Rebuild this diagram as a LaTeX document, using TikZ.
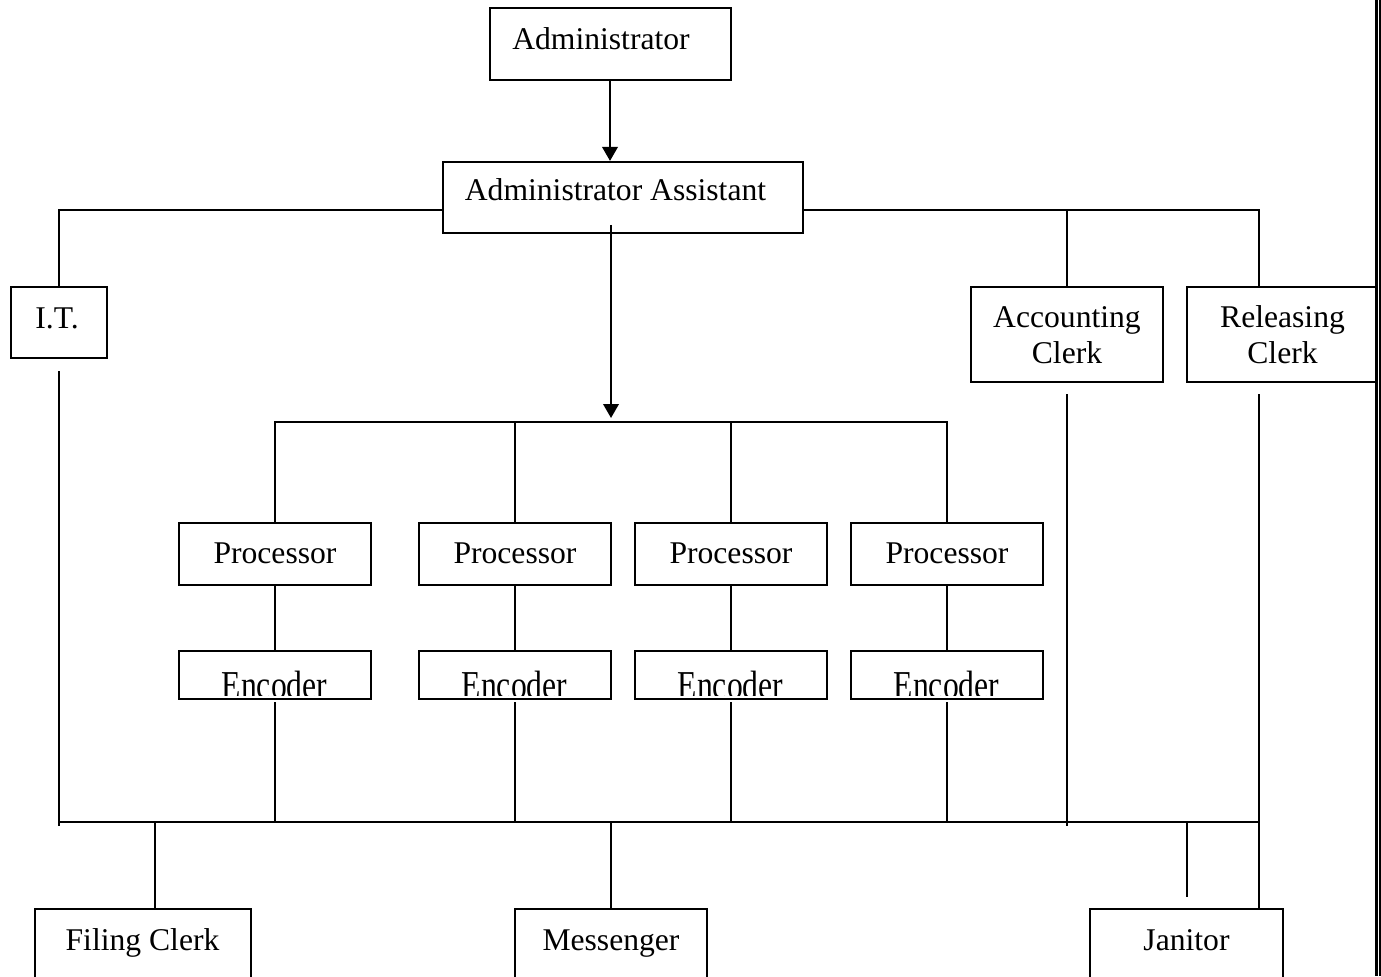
\documentclass[tikz,border=0pt]{standalone}
\usepackage{fontspec}
\usepackage{graphicx}
\setmainfont{Liberation Serif}
\usetikzlibrary{arrows.meta,calc}
\begin{document}
\begin{tikzpicture}[x=0.02cm,y=-0.02cm,
  line width=1.25pt,
  box/.style={draw, rectangle, inner sep=0pt, line width=1.25pt},
  lab/.style={anchor=base, inner sep=0pt, font=\fontsize{18}{21}\selectfont},
  arr/.style={-{Triangle[width=0.31cm,length=0.28cm]}}]
\useasboundingbox (0,0) rectangle (1381,976);
% boxes
\node[box, minimum width=4.82cm, minimum height=1.44cm] (adm) at (610.5,44) {};
\node[box, minimum width=7.2cm, minimum height=1.42cm] (aa) at (623,197.5) {};
\node[box, minimum width=1.92cm, minimum height=1.42cm] (it) at (59,322.5) {};
\node[box, minimum width=3.84cm, minimum height=1.9cm] (acc) at (1067,334.5) {};
\node[box, minimum width=3.78cm, minimum height=1.9cm] (rel) at (1281.5,334.5) {};
\foreach \i/\x in {1/275,2/515,3/731,4/947}{
  \node[box, minimum width=3.84cm, minimum height=1.24cm] (p\i) at (\x,554) {};
  \node[box, minimum width=3.84cm, minimum height=0.96cm] (e\i) at (\x,675) {};
  \node[lab] (pt\i) at (\x,563) {Processor};
  \begin{scope}
    \clip (\x-95,652) rectangle (\x+95,695);
    \node[lab] (et\i) at (\x-0.5,698) {\scalebox{1}[1.25]{Encoder}};
  \end{scope}
}
\node[box, minimum width=4.32cm, minimum height=1.82cm] (fc) at (143,954.5) {};
\node[box, minimum width=3.84cm, minimum height=1.82cm] (mes) at (611,954.5) {};
\node[box, minimum width=3.86cm, minimum height=1.82cm] (jan) at (1186.5,954.5) {};
% texts
\node[lab] (admt) at (601,50) {Administrator};
\node[lab] (aat) at (615.5,201) {Administrator Assistant};
\node[lab] (itt) at (57,328) {I.T.};
\node[lab] (acct1) at (1067,327) {Accounting};
\node[lab] (acct2) at (1067,363) {Clerk};
\node[lab] (relt1) at (1282.5,327) {Releasing};
\node[lab] (relt2) at (1282.5,363) {Clerk};
\node[lab] (fct) at (142.5,950) {Filing Clerk};
\node[lab] (mest) at (611,950) {Messenger};
\node[lab] (jant) at (1186.5,950) {Janitor};
% helper coordinates
\coordinate (hl) at (0,210);
\coordinate (bus) at (0,422);
\coordinate (bot) at (0,822);
\coordinate (relx) at (1259,0);
\coordinate (aain) at (611,225);
\coordinate (aatip) at (611,418);
\coordinate (jstub) at (1187,897);
% connectors
\draw[arr] (610,80) coordinate (admb) -- (admb |- aa.north);
\draw (aa.west |- hl) -| (it.north);
\draw (aa.east |- hl) -| (relx |- rel.north);
\draw (acc.north) -- (acc.north |- hl);
\draw[arr] (aain) -- (aatip);
\draw (p1.north) -- (p1.north |- bus) -- (p4.north |- bus) -- (p4.north);
\draw (p2.north) -- (p2.north |- bus);
\draw (p3.north) -- (p3.north |- bus);
\foreach \i in {1,...,4}{
  \draw (p\i.south) -- (e\i.north);
  \draw ($(e\i.south)+(0,2)$) -- (e\i.south |- bot);
}
\draw ($(it.south)+(0,12)$) -- ($(it.south |- bot)+(0,4)$);
\draw ($(acc.south)+(0,11)$) -- ($(acc.south |- bot)+(0,4)$);
\draw ($(relx |- rel.south)+(0,11)$) coordinate (rels) -- (rels |- jan.north);
\draw (it.south |- bot) -- (rels |- bot);
\draw (155,822) coordinate (fcb) -- (fcb |- fc.north);
\draw (mes.north |- bot) -- (mes.north);
\draw (jstub |- bot) -- (jstub);
% right border double line
\draw (1376.5,0) -- (1376.5,976);
\draw (1380.5,0) -- (1380.5,976);
\end{tikzpicture}
\end{document}
